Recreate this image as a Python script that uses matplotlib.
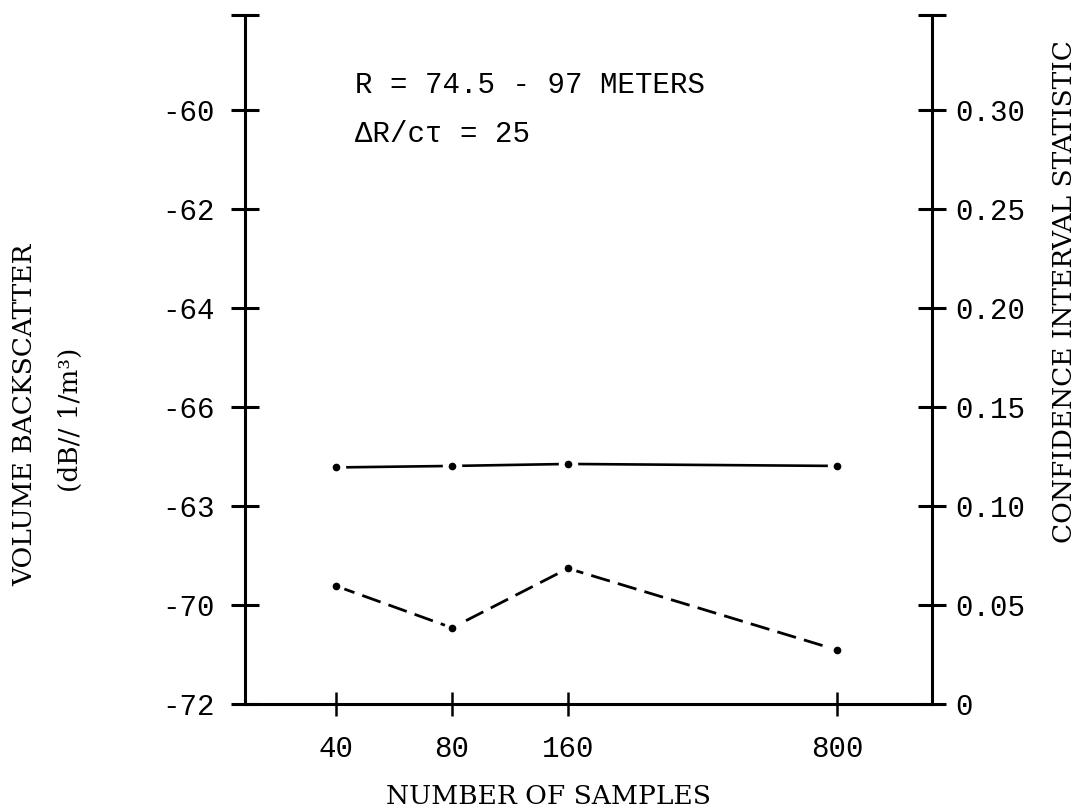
import matplotlib
matplotlib.use("Agg")
import matplotlib.pyplot as plt
from matplotlib.ticker import FixedLocator, FixedFormatter, NullLocator

# ---- data ----
samples = [40, 80, 160, 800]
sample_labels = ["40", "80", "160", "800"]
backscatter_db = [-67.22, -67.19, -67.15, -67.19]      # solid line (left axis)
confidence_stat = [0.0596, 0.0385, 0.0685, 0.0273]     # dashed line (right axis)

left_ticks = [-72, -70, -68, -66, -64, -62, -60]
left_tick_labels = ["-72", "-70", "-63", "-66", "-64", "-62", "-60"]
right_ticks = [0, 0.05, 0.10, 0.15, 0.20, 0.25, 0.30]
right_tick_labels = ["0", "0.05", "0.10", "0.15", "0.20", "0.25", "0.30"]

LEFT_LIM = (-72, -58.08)
RIGHT_LIM = (0, 0.348)
X_LIM = (23.2, 1411)

mono = ["Liberation Mono", "DejaVu Sans Mono"]
serif = ["DejaVu Serif"]

fig = plt.figure(figsize=(10.91, 8.11), dpi=100)
ax = fig.add_axes([0.2246, 0.1319, 0.6297, 0.8496])
ax2 = ax.twinx()

# lines
ax.plot(samples, backscatter_db, color="black", lw=1.9, solid_capstyle="butt", zorder=2)
ax.plot(samples, backscatter_db, ls="none", marker="o", ms=14, mfc="white", mec="none", zorder=3)
ax.plot(samples, backscatter_db, ls="none", marker="o", ms=4.5, mfc="black", mec="black", zorder=4)

ax2.plot(samples, confidence_stat, color="black", lw=2.0, dashes=(7, 3), zorder=2)
ax2.plot(samples, confidence_stat, ls="none", marker="o", ms=12, mfc="white", mec="none", zorder=3)
ax2.plot(samples, confidence_stat, ls="none", marker="o", ms=4.5, mfc="black", mec="black", zorder=4)

# x axis
ax.set_xscale("log")
ax.set_xlim(*X_LIM)
ax.xaxis.set_major_locator(FixedLocator(samples))
ax.xaxis.set_major_formatter(FixedFormatter(sample_labels))
ax.xaxis.set_minor_locator(NullLocator())

# left axis
ax.set_ylim(*LEFT_LIM)
ax.yaxis.set_major_locator(FixedLocator(left_ticks + [LEFT_LIM[1]]))
ax.yaxis.set_major_formatter(FixedFormatter(left_tick_labels + [""]))

# right axis
ax2.set_ylim(*RIGHT_LIM)
ax2.yaxis.set_major_locator(FixedLocator(right_ticks + [RIGHT_LIM[1]]))
ax2.yaxis.set_major_formatter(FixedFormatter(right_tick_labels + [""]))
ax2.yaxis.set_minor_locator(NullLocator())
ax2.set_xlim(*X_LIM)

# spines
for s in ["top", "right"]:
    ax.spines[s].set_visible(False)
for s in ["top", "left", "bottom"]:
    ax2.spines[s].set_visible(False)
for sp in [ax.spines["left"], ax.spines["bottom"], ax2.spines["right"]]:
    sp.set_linewidth(2.2)

ax.tick_params(axis="y", direction="inout", length=20, width=2.2, pad=11.5,
               labelsize=21)
ax.tick_params(axis="x", direction="inout", length=17, width=1.8, pad=14,
               labelsize=21)
ax2.tick_params(axis="y", direction="inout", length=20, width=2.2, pad=7,
                labelsize=21)
for lab in ax.get_xticklabels() + ax.get_yticklabels() + ax2.get_yticklabels():
    lab.set_family(mono)

# axis titles
W, H = 1091, 811
fig.text(548 / W, 1 - 796 / H, "NUMBER OF SAMPLES", family=serif, fontsize=19,
         ha="center", va="center")
fig.text(25 / W, 1 - 415 / H, "VOLUME BACKSCATTER", family=serif, fontsize=19,
         rotation=90, ha="center", va="center")
fig.text(70 / W, 1 - 420 / H, "(dB// 1/m³)", family=serif, fontsize=19,
         rotation=90, ha="center", va="center")
fig.text(1065 / W, 1 - 292 / H, "CONFIDENCE INTERVAL STATISTIC", family=serif,
         fontsize=19, rotation=90, ha="center", va="center")

# annotation
fig.text(355 / W, 1 - 93 / H, "R = 74.5 - 97 METERS", family=mono, fontsize=21,
         ha="left", va="baseline")
fig.text(355 / W, 1 - 142 / H, "ΔR/cτ = 25", family=mono, fontsize=21,
         ha="left", va="baseline")

fig.savefig("out.png", dpi=100, facecolor="white")
